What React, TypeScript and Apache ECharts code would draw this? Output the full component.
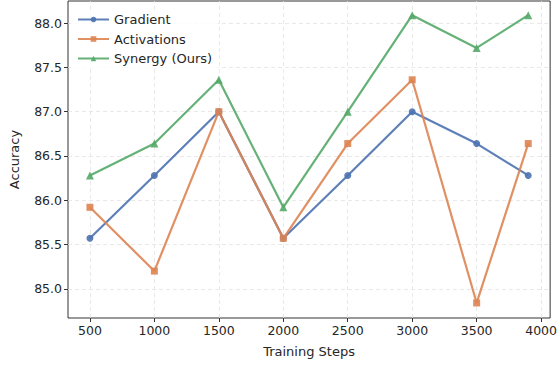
import React, { useEffect, useRef } from "react";
import * as echarts from "echarts";

const steps = [500, 1000, 1500, 2000, 2500, 3000, 3500, 3900];
const gradient = [85.57, 86.28, 87.0, 85.57, 86.28, 87.0, 86.64, 86.28];
const activations = [85.92, 85.2, 87.0, 85.57, 86.64, 87.36, 84.84, 86.64];
const synergy = [86.28, 86.64, 87.36, 85.92, 87.0, 88.09, 87.72, 88.09];
const xTicks = [500, 1000, 1500, 2000, 2500, 3000, 3500, 4000];
const yTicks = [85.0, 85.5, 86.0, 86.5, 87.0, 87.5, 88.0];

const COLORS = ["#4C72B0", "#DD8452", "#55A868"];
const FONT = "DejaVu Sans";

export default function App() {
  const ref = useRef<HTMLDivElement>(null);
  useEffect(() => {
    if (!ref.current) return;
    const chart = echarts.init(ref.current, undefined, { renderer: "svg" });
    const pair = (ys: number[]) => steps.map((s, i) => [s, ys[i]]);
    const gridLine = { color: "#e3e3e3", type: [4, 3] as any, width: 0.8 };
    const mk = (name: string, ys: number[], color: string, symbol: string, size: number, extra: any = {}) => ({
      name,
      type: "line",
      data: pair(ys),
      symbol,
      symbolSize: size,
      showSymbol: true,
      itemStyle: { color, opacity: 0.9 },
      lineStyle: { color, width: 2.2, opacity: 0.9 },
      emphasis: { disabled: true },
      ...extra,
    });
    chart.setOption({
      animation: false,
      grid: { left: 67, right: 7, top: 1, bottom: 49, show: true, borderColor: "#333", borderWidth: 1, backgroundColor: "transparent" },
      legend: {
        left: 71,
        top: 10,
        orient: "vertical",
        itemWidth: 31,
        itemHeight: 7,
        itemGap: 6.5,
        textStyle: { fontFamily: FONT, fontSize: 13, color: "#262626" },
        data: ["Gradient", "Activations", "Synergy (Ours)"],
        backgroundColor: "rgba(255,255,255,0.8)",
        padding: [3, 6, 3, 6],
      },
      xAxis: {
        type: "value",
        min: 330,
        max: 4070,
        name: "Training Steps",
        nameLocation: "middle",
        nameGap: 27,
        nameTextStyle: { fontFamily: FONT, fontSize: 13, color: "#262626" },
        axisLine: { show: false },
        axisTick: { show: true, length: 4, customValues: xTicks, lineStyle: { color: "#333" } },
        axisLabel: { customValues: xTicks, fontFamily: FONT, fontSize: 12.5, color: "#262626", margin: 6, formatter: (v: number) => String(v) },
        splitLine: { show: false },
      },
      yAxis: {
        type: "value",
        min: 84.67,
        max: 88.25,
        name: "Accuracy",
        nameLocation: "middle",
        nameGap: 47,
        nameTextStyle: { fontFamily: FONT, fontSize: 13, color: "#262626" },
        axisLine: { show: false },
        axisTick: { show: true, length: 4, customValues: yTicks, lineStyle: { color: "#333" } },
        axisLabel: { customValues: yTicks, fontFamily: FONT, fontSize: 12.5, color: "#262626", margin: 6, formatter: (v: number) => v.toFixed(1) },
        splitLine: { show: false },
      },
      series: [
        mk("Gradient", gradient, COLORS[0], "circle", 7, {
          markLine: {
            silent: true,
            symbol: "none",
            label: { show: false },
            lineStyle: gridLine,
            emphasis: { disabled: true },
            data: [
              ...xTicks.map((v) => ({ xAxis: v })),
              ...yTicks.map((v) => ({ yAxis: v })),
            ],
            z: 0,
          },
        }),
        mk("Activations", activations, COLORS[1], "rect", 7),
        mk("Synergy (Ours)", synergy, COLORS[2], "triangle", 8),
      ],
    });
    return () => chart.dispose();
  }, []);
  return <div ref={ref} style={{ width: 560, height: 367, position: "absolute", left: 0, top: 0 }} />;
}
